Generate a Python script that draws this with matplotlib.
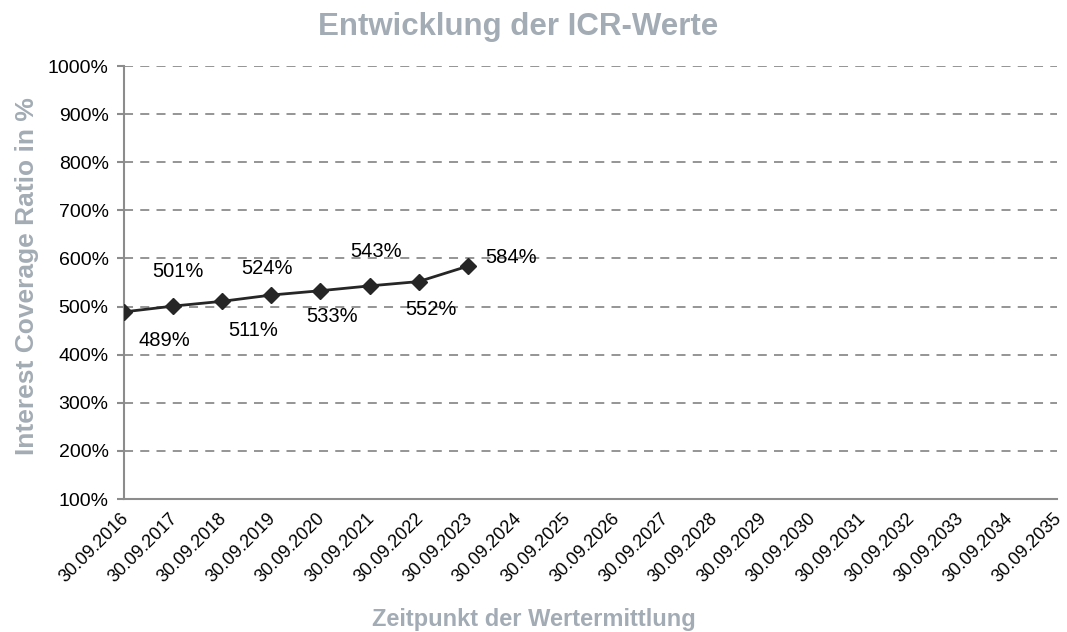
import matplotlib.pyplot as plt
from matplotlib.transforms import ScaledTranslation

plt.rcParams['font.family'] = ['Liberation Sans', 'DejaVu Sans']

dates = ['30.09.%d' % y for y in range(2016, 2036)]
icr = [489, 501, 511, 524, 533, 543, 552, 584]
# label offsets in pixels (dx, dy) from each point
offsets = [(40, -29), (5, 35), (31, -29), (-4, 27), (12, -26), (7, 34), (12, -28), (43, 9)]

grey = '#a3acb4'
axis_col = '#8c8c8c'

fig = plt.figure(figsize=(10.67, 6.32), dpi=100)
ax = fig.add_axes([0.1162, 0.2104, 0.8745, 0.6851])

x = list(range(len(icr)))
ax.plot(x, icr, color='#262626', lw=2, marker='D', ms=8, zorder=3)
for xi, v, (dx, dy) in zip(x, icr, offsets):
    ax.annotate('%d%%' % v, (xi, v), xytext=(dx * 0.72, dy * 0.72),
                textcoords='offset points', ha='center', va='center', fontsize=14.5)

ax.set_xlim(0, len(dates) - 1)
ax.set_ylim(100, 1000)
ax.set_yticks(range(100, 1001, 100))
ax.set_yticklabels(['%d%%' % t for t in range(100, 1001, 100)], fontsize=14)
ax.set_xticks(range(len(dates)))
ax.set_xticklabels(dates, rotation=45, ha='right', rotation_mode='anchor', fontsize=13)
ax.tick_params(axis='x', length=0, pad=8)
ax.tick_params(axis='y', length=5, color=axis_col, width=1.5, pad=6)
shift = ScaledTranslation(-0.04, 0, fig.dpi_scale_trans)
for lab in ax.get_xticklabels():
    lab.set_transform(lab.get_transform() + shift)

ax.grid(axis='y', linestyle=(0, (5, 4)), color='#8c8c8c', lw=1.3)
ax.set_axisbelow(True)
for s in ['top', 'right']:
    ax.spines[s].set_visible(False)
for s in ['left', 'bottom']:
    ax.spines[s].set_color(axis_col)
    ax.spines[s].set_linewidth(1.5)

fig.text(0.4855, 0.9446, 'Entwicklung der ICR-Werte', ha='center', va='baseline',
         fontsize=22.5, fontweight='bold', color=grey)
fig.text(0.5, 0.0095, 'Zeitpunkt der Wertermittlung', ha='center', va='baseline',
         fontsize=17, fontweight='bold', color=grey)
fig.text(0.0253, 0.5633, 'Interest Coverage Ratio in %', ha='center', va='center',
         rotation=90, fontsize=19, fontweight='bold', color=grey)

fig.savefig('out.png', dpi=100)
